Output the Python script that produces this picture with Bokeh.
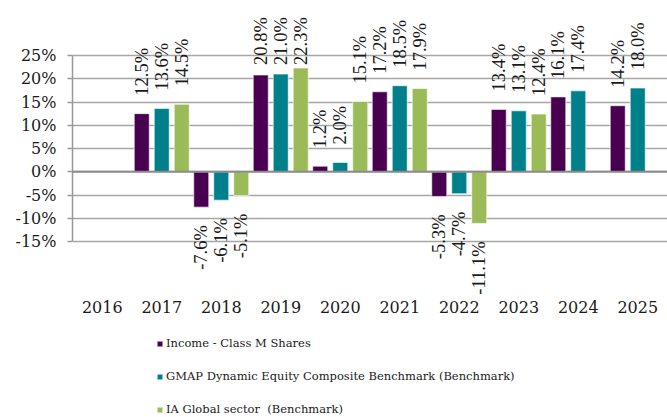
import math
from bokeh.plotting import figure
from bokeh.layouts import column
from bokeh.models import (ColumnDataSource, LabelSet, Legend, LegendItem, Span,
                          FixedTicker)
from bokeh.core.properties import value
from bokeh.transform import dodge
from bokeh.embed import file_html
from bokeh.resources import INLINE

# ---- data ----
years = ["2016", "2017", "2018", "2019", "2020", "2021", "2022", "2023", "2024", "2025"]
income = [None, 12.5, -7.6, 20.8, 1.2, 17.2, -5.3, 13.4, 16.1, 14.2]
gmap = [None, 13.6, -6.1, 21.0, 2.0, 18.5, -4.7, 13.1, 17.4, 18.0]
ia_global = [None, 14.5, -5.1, 22.3, 15.1, 17.9, -11.1, 12.4, None, None]
series_names = ["Income - Class M Shares",
                "GMAP Dynamic Equity Composite Benchmark (Benchmark)",
                "IA Global sector  (Benchmark)"]
y_ticks = [-15, -10, -5, 0, 5, 10, 15, 20, 25]

colors = ["#4a0051", "#00808a", "#9bbb59"]
offsets = [-0.336, 0.0, 0.336]
FONT = "DejaVu Serif"
TXT = "#1a1a1a"

# header strip
header = figure(width=667, height=6, output_backend="svg", toolbar_location=None,
                x_axis_type=None, y_axis_type=None, min_border=0)
header.background_fill_color = "#4a0350"
header.border_fill_color = "#4a0350"
header.outline_line_color = None
header.grid.visible = False

p = figure(width=667, height=411, output_backend="svg", toolbar_location=None,
           x_range=years, y_range=(-52.82, 35.53), x_axis_type=None,
           min_border_left=72, min_border_right=0, min_border_top=0,
           min_border_bottom=0)
p.outline_line_color = None
p.background_fill_color = "white"
p.border_fill_color = "white"
p.xgrid.grid_line_color = None
p.ygrid.ticker = FixedTicker(ticks=y_ticks)
p.ygrid.grid_line_color = "#a6a6a6"
p.ygrid.grid_line_width = 1.5
p.ygrid.bounds = (-15, 25)

# y axis
p.yaxis.ticker = FixedTicker(ticks=y_ticks)
p.yaxis.major_label_overrides = {t: f"{t}%" for t in y_ticks}
p.yaxis.bounds = (-15, 25)
p.yaxis.axis_line_color = "#999999"
p.yaxis.axis_line_width = 1.5
p.yaxis.major_tick_in = 0
p.yaxis.major_tick_out = 5
p.yaxis.major_tick_line_color = "#999999"
p.yaxis.major_tick_line_width = 1.5
p.yaxis.minor_tick_line_color = None
p.yaxis.major_label_standoff = 11
p.yaxis.major_label_text_font = FONT
p.yaxis.major_label_text_font_size = "16px"
p.yaxis.major_label_text_color = TXT

# zero line
p.add_layout(Span(location=0, dimension="width", line_color="#8c8c8c", line_width=2))

# category labels (years) under the plot
ysrc = ColumnDataSource(dict(year=years, y=[-29.0] * len(years)))
p.text(x="year", y="y", text="year", source=ysrc, text_align="center",
       text_baseline="middle", text_font=value(FONT), text_font_size="16px",
       text_color=TXT)

items = []
for name, vals, col, off in zip(series_names, [income, gmap, ia_global], colors, offsets):
    xs = [y for y, v in zip(years, vals) if v is not None]
    vs = [v for v in vals if v is not None]
    src = ColumnDataSource(dict(year=xs, top=vs))
    r = p.vbar(x=dodge("year", off, range=p.x_range), top="top", bottom=0, width=0.252,
               source=src, fill_color=col, line_color="white", line_width=0.6)
    items.append(LegendItem(label=name, renderers=[r]))

    pos = [(y, v) for y, v in zip(xs, vs) if v >= 0]
    neg = [(y, v) for y, v in zip(xs, vs) if v < 0]
    if pos:
        ps = ColumnDataSource(dict(year=[a for a, _ in pos],
                                   y=[min(b, 19.1) for _, b in pos],
                                   text=[f"{b:.1f}%" for _, b in pos]))
        p.add_layout(LabelSet(x=dodge("year", off, range=p.x_range), y="y", text="text",
                              source=ps, angle=math.pi / 2, text_align="left",
                              text_baseline="middle", y_offset=18,
                              text_font=FONT, text_font_size="18.5px",
                              text_color=TXT))
    if neg:
        ns = ColumnDataSource(dict(year=[a for a, _ in neg],
                                   y=[b for _, b in neg],
                                   text=[f"{b:.1f}%" for _, b in neg]))
        p.add_layout(LabelSet(x=dodge("year", off, range=p.x_range), y="y", text="text",
                              source=ns, angle=math.pi / 2, text_align="right",
                              text_baseline="middle", y_offset=-18,
                              text_font=FONT, text_font_size="18.5px",
                              text_color=TXT))

legend = Legend(items=items, location=(84, 1), orientation="vertical",
                glyph_width=7, glyph_height=7, label_standoff=3, spacing=19,
                label_height=14, padding=0, margin=0,
                border_line_color=None, background_fill_alpha=0,
                label_text_font=FONT, label_text_font_size="11.5px",
                label_text_color=TXT)
p.add_layout(legend, "center")

layout = column(header, p, spacing=0)
open("out.html", "w").write(file_html(layout, INLINE))
